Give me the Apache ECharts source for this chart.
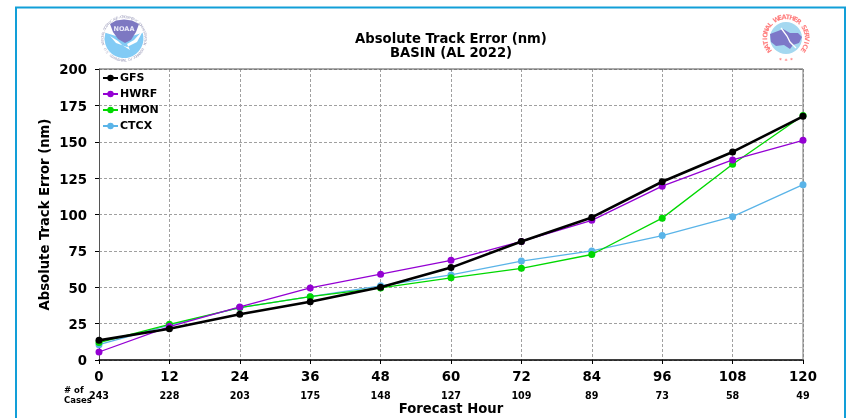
<!DOCTYPE html>
<html><head><meta charset="utf-8">
<style>html,body{margin:0;padding:0;background:#fff}#c{width:848px;height:418px}</style>
<script src="https://cdn.jsdelivr.net/npm/echarts@6/dist/echarts.min.js"></script>
</head><body><div id="c"></div>
<script>
const hours=[0,12,24,36,48,60,72,84,96,108,120];
const cases=[243,228,203,175,148,127,109,89,73,58,49];
const gfs=[13.5,21.5,31.5,40,50,63.5,81.5,98,122.5,143,167.5];
const hwrf=[5.5,23,36.5,49.5,59,68.5,81.5,96,119.5,137.5,151];
const hmon=[12,24.5,36,43.5,49.5,56.5,63,72.5,97.5,134.5,168];
const ctcx=[10.5,24,36,43.5,51,58.5,68,75,85.5,98.5,120.5];
const F='"DejaVu Sans"';
const chart=echarts.init(document.getElementById('c'),null,{renderer:'canvas'});
const mk=(name,data,color,w,s,z)=>({name,type:'line',data:data.map((v,i)=>[hours[i],v]),symbol:'circle',symbolSize:s,clip:false,z,
 lineStyle:{color,width:w},itemStyle:{color},emphasis:{disabled:true}});
const caseLabels=cases.map((c,i)=>({type:'text',z:5,style:{text:String(c),x:99+i*70.4,y:396,align:'center',verticalAlign:'middle',font:'bold 9.6px '+F,fill:'#000'}}));
const ring=(text,cx,cy,R,a0,a1,font,fill)=>[...text].map((ch,i)=>{
 const th=(a0+(a1-a0)*i/(text.length-1))*Math.PI/180;
 return {type:'text',z:3,x:cx+R*Math.sin(th),y:cy-R*Math.cos(th),rotation:-th,silent:true,
  style:{text:ch,align:'center',verticalAlign:'middle',font,fill}};
});
chart.setOption({
 animation:false,backgroundColor:'#fff',
 title:{text:'Absolute Track Error (nm)\nBASIN (AL 2022)',left:446,top:28,textAlign:'center',
  textStyle:{fontFamily:F,fontSize:13.2,fontWeight:'bold',color:'#000',lineHeight:14}},
 grid:{left:99,top:69,width:704,height:291,containLabel:false,outerBoundsMode:'none'},
 legend:{left:102,top:72,orient:'vertical',itemWidth:15,itemHeight:8,itemGap:4,padding:0,
  selectedMode:false,data:['GFS','HWRF','HMON','CTCX'],
  textStyle:{fontFamily:F,fontSize:11,fontWeight:'bold',color:'#000',lineHeight:12,padding:[0,0,0,-3]}},
 xAxis:{type:'value',min:0,max:120,interval:12,
  name:'Forecast Hour',nameLocation:'middle',nameGap:43,nameMoveOverlap:false,nameTextStyle:{fontFamily:F,fontSize:13.2,fontWeight:'bold',color:'#000'},
  axisLine:{lineStyle:{color:'#000',width:1.5}},axisTick:{show:true,length:4,lineStyle:{color:'#000'}},
  axisLabel:{fontFamily:F,fontSize:13.3,fontWeight:'bold',color:'#000',margin:11,formatter:v=>String(v)},
  splitLine:{show:true,lineStyle:{color:'#a0a0a0',type:[3,2],width:1}}},
 yAxis:{type:'value',min:0,max:200,interval:25,
  name:'Absolute Track Error (nm)',nameLocation:'middle',nameGap:47,nameMoveOverlap:false,nameTextStyle:{fontFamily:F,fontSize:13.2,fontWeight:'bold',color:'#000'},
  axisLine:{show:true,lineStyle:{color:'#555',width:1}},axisTick:{show:true,length:4,lineStyle:{color:'#000'}},
  axisLabel:{fontFamily:F,fontSize:13.3,fontWeight:'bold',color:'#000',margin:12,verticalAlign:'top',lineHeight:4},
  splitLine:{show:true,lineStyle:{color:'#a0a0a0',type:[3,2],width:1}}},
 series:[mk('CTCX',ctcx,'#5ab4e8',1.3,7,3),mk('HMON',hmon,'#00d800',1.3,7,4),mk('HWRF',hwrf,'#9400d3',1.3,7,5),mk('GFS',gfs,'#000',2.6,7,6)],
 graphic:[
  {type:'rect',z:0,silent:true,shape:{x:16,y:7.5,width:829,height:420},style:{fill:'none',stroke:'#129fd8',lineWidth:2}},
  {type:'line',z:2,shape:{x1:99,y1:69,x2:803,y2:69},style:{stroke:'#555',lineWidth:1}},
  {type:'line',z:2,shape:{x1:803,y1:69,x2:803,y2:360},style:{stroke:'#777',lineWidth:1}},
  {type:'text',z:5,style:{text:'# of\nCases',x:64,y:396,verticalAlign:'middle',font:'bold 8.5px '+F,fill:'#000',lineHeight:9.5}},
  ...caseLabels,
  // NOAA logo
  ...ring('NATIONAL OCEANIC AND ATMOSPHERIC ADMINISTRATION',124,38.5,21.3,-105,105,'3.4px '+F,'#a5a5c0'),
  ...ring('U.S. DEPARTMENT OF COMMERCE',124,38.5,21.3,240,120,'3.4px '+F,'#a5a5c0'),
  {type:'sector',z:1,shape:{cx:124,cy:38.5,r:19.5,startAngle:-0.3,endAngle:Math.PI+0.3},style:{fill:'#82cbf5'}},
  {type:'polygon',z:2,shape:{points:[[104,29],[110,36],[118,41],[122,45],[130,50],[127,44],[134,40],[144,29],[137,42],[127,47],[116,43]]},style:{fill:'#fff'}},
  {type:'polygon',z:2,shape:{points:[[110,24],[116,20.5],[124,19.5],[132,20.5],[139,24],[136,32],[131,40],[125,43],[118,39],[113,32]]},style:{fill:'#7d78c2'}},
  {type:'text',z:3,style:{text:'NOAA',x:124,y:29.5,align:'center',verticalAlign:'middle',font:'bold 6.5px '+F,fill:'#e8e8f8'}},
  // NWS logo
  ...ring('NATIONAL WEATHER SERVICE',786,38,20.5,-125,125,'bold 6.5px '+F,'#ff8080'),
  ...ring('* * *',786,38,20.5,165,195,'bold 5.5px '+F,'#ff8080'),
  {type:'circle',z:1,shape:{cx:786,cy:38,r:16},style:{fill:'#a4d8f0'}},
  {type:'polygon',z:2,shape:{points:[[770,34],[778,31],[783,29],[790,33],[798,33],[802,37],[799,43],[793,45],[790,49],[784,45],[776,46],[771,42]]},style:{fill:'#7d78c8'}},
  {type:'polyline',z:3,shape:{points:[[781,28],[787,36],[790,42],[796,48]]},style:{stroke:'#fff',fill:'none',lineWidth:1.3}}
 ]
});
</script></body></html>
